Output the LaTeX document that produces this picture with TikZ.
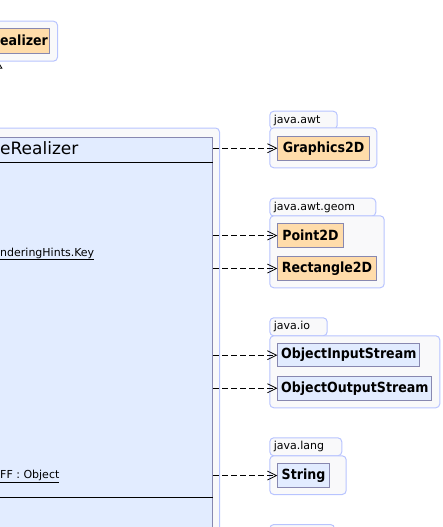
\documentclass[tikz,border=0pt]{standalone}
\usepackage{fontspec}
\setmainfont{DejaVu Sans}
\newfontfamily\clsfont{DejaVu Sans Condensed}
\usetikzlibrary{positioning,calc}
\usetikzlibrary{arrows.meta}
\definecolor{PkgFill}{RGB}{249,249,250}
\definecolor{PkgLine}{RGB}{184,196,255}
\definecolor{ClsLine}{RGB}{136,136,176}
\definecolor{ExtFill}{RGB}{255,220,170}
\definecolor{OwnFill}{RGB}{226,236,255}
\tikzset{
  pkg/.style={draw=PkgLine,fill=PkgFill,rounded corners=4pt,line width=1pt,
    anchor=north west,inner sep=0pt},
  tab/.style={pkg,inner xsep=4pt,inner ysep=0pt,minimum height=18pt,align=left,
    font=\fontsize{11}{12}\selectfont},
  cls/.style={draw=ClsLine,fill=ExtFill,line width=1pt,anchor=north west,
    inner sep=0pt,minimum height=23.5pt,font=\clsfont\bfseries\fontsize{14}{16}\selectfont},
  jcls/.style={cls,fill=OwnFill},
  attr/.style={anchor=base west,inner sep=0pt,font=\fontsize{11}{12}\selectfont},
  sep/.style={draw=black,line width=1pt},
  dep/.style={draw=black,line width=0.8pt,dash pattern=on 6pt off 3pt,
    -{Straight Barb[length=9pt,width=9pt]}},
  inh/.style={draw=black,line width=0.8pt,-{Triangle[open,length=7pt,width=8pt]}},
}
\begin{document}
\begin{tikzpicture}[x=1pt,y=-1pt]
\useasboundingbox (0,0) rectangle (442,527);
\clip (0,0) rectangle (442,527);
% super class, top left
\node[pkg,minimum width=77pt,minimum height=40pt] (toppkg) at (-20,20.7) {};
\node[cls,minimum width=69pt,minimum height=24.4pt] (base) at (-20,28.3) {};
\node[anchor=base west,inner sep=0pt,font=\clsfont\bfseries\fontsize{14}{16}\selectfont]
  (basename) at (0,45.3) {ealizer};
% realizer class
\node[pkg,minimum width=239pt,minimum height=440pt] (mainpkg) at (-20,127.5) {};
\node[draw=ClsLine,fill=OwnFill,line width=1pt,anchor=north west,inner sep=0pt,
  minimum width=232pt,minimum height=420pt] (main) at (-20,136.8) {};
\node[anchor=base west,inner sep=0pt,font=\fontsize{17}{19}\selectfont] (title) at (0,154.7) {eRealizer};
\draw[sep] (-20,162.3) -- (main.east |- 0,162.3);
\node[attr] (hints) at (0,256) {\underline{nderingHints.Key}};
\node[attr] (obj) at (0,478.5) {\underline{FF : Object}};
\draw[sep] (-20,497.7) -- (main.east |- 0,497.7);
\coordinate (gen) at (-1.5,0);
\draw[inh] (mainpkg.north -| gen) -- (toppkg.south -| gen);
% java.awt
\node[tab,text width=59.4pt] (awttab) at (269.3,110.7) {java.awt};
\node[pkg,minimum width=107pt,minimum height=40pt] (awt) at (269.3,127.3) {};
\node[cls,minimum width=91.7pt] (gfx) at (277.3,136) {Graphics2D};
% java.awt.geom
\node[tab,text width=98pt] (geomtab) at (269.3,197.7) {java.awt.geom};
\node[pkg,minimum width=114.4pt,minimum height=72pt] (geom) at (269.3,215.3) {};
\node[cls,minimum width=65.4pt] (pt) at (277.3,223.3) {Point2D};
\node[cls,minimum width=98.4pt] (rect) at (277.3,256.3) {Rectangle2D};
% java.io
\node[tab,text width=49.4pt] (iotab) at (269.3,317.3) {java.io};
\node[pkg,minimum width=170pt,minimum height=72pt] (io) at (269.3,335.3) {};
\node[jcls,minimum width=142pt] (ois) at (277.3,342.9) {ObjectInputStream};
\node[jcls,minimum width=154pt] (oos) at (277.3,376) {ObjectOutputStream};
% java.lang
\node[tab,text width=64pt] (langtab) at (269.3,437.3) {java.lang};
\node[pkg,minimum width=76.4pt,minimum height=38.7pt] (lang) at (269.3,455.3) {};
\node[jcls,minimum width=51.4pt] (str) at (277.3,463.3) {String};
% next package, cut off
\node[tab,text width=56.7pt] (nexttab) at (269.3,524) {};
% dependencies
\draw[dep] (main.east |- gfx.west) -- (gfx.west);
\draw[dep] (main.east |- pt.west) -- (pt.west);
\draw[dep] (main.east |- rect.west) -- (rect.west);
\draw[dep] (main.east |- ois.west) -- (ois.west);
\draw[dep] (main.east |- oos.west) -- (oos.west);
\draw[dep] (main.east |- str.west) -- (str.west);
\end{tikzpicture}
\end{document}
